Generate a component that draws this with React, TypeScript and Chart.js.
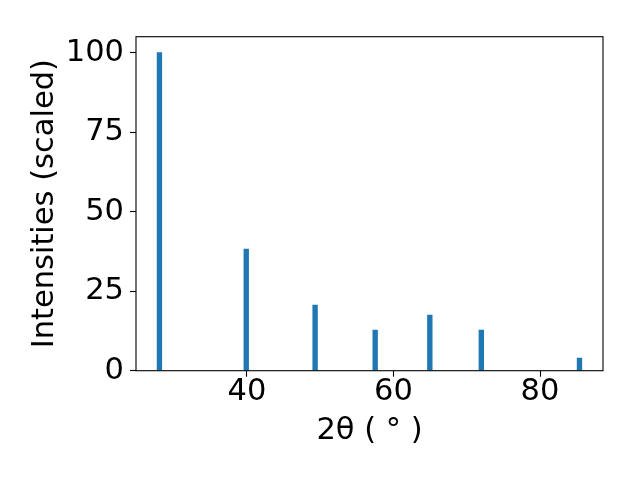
import React, { useEffect, useRef } from "react";
import { Chart, registerables } from "chart.js";

Chart.register(...registerables);

// Data
const TWO_THETA = [28.05, 39.9, 49.3, 57.5, 64.96, 71.99, 85.39];
const INTENSITIES = [100, 38.2, 20.6, 12.8, 17.5, 12.8, 4.0];
const X_TICKS = [40, 60, 80];
const Y_TICKS = [0, 25, 50, 75, 100];
const X_LIMITS = [24.85, 88.6];
const Y_LIMITS = [0, 105];
const X_TITLE = "2θ ( ° )";
const Y_TITLE = "Intensities (scaled)";

const FONT = "'DejaVu Sans', sans-serif";
const FS = 30.5;
const BAR_COLOR = "#1f77b4";

const framePlugin = {
  id: "frame",
  afterDatasetsDraw(chart: any) {
    const { ctx, chartArea } = chart;
    const { left, top, right, bottom } = chartArea;
    ctx.save();
    ctx.strokeStyle = "#000";
    ctx.lineWidth = 1.1;
    ctx.strokeRect(left, top, right - left, bottom - top);
    ctx.restore();
  },
};

export default function App() {
  const ref = useRef<HTMLCanvasElement | null>(null);

  useEffect(() => {
    if (!ref.current) return;
    const points = TWO_THETA.map((x, i) => ({ x, y: INTENSITIES[i] }));
    const chart = new Chart(ref.current, {
      type: "bar",
      data: {
        datasets: [
          {
            data: points as any,
            backgroundColor: BAR_COLOR,
            borderWidth: 0,
            barThickness: 4.7,
          },
        ],
      },
      options: {
        animation: false,
        responsive: false,
        devicePixelRatio: 1,
        layout: { padding: { left: 0, top: 36.7, right: 37, bottom: 0 } },
        plugins: {
          legend: { display: false },
          tooltip: { enabled: false },
        },
        scales: {
          x: {
            type: "linear",
            offset: false,
            min: X_LIMITS[0],
            max: X_LIMITS[1],
            afterBuildTicks: (s: any) => {
              s.ticks = X_TICKS.map((v) => ({ value: v }));
            },
            afterFit: (s: any) => {
              s.height = 480 - 370.7;
            },
            grid: {
              offset: false,
              drawOnChartArea: false,
              drawTicks: true,
              tickLength: 6,
              tickColor: "#000",
              tickWidth: 1.1,
            },
            border: { display: false },
            ticks: {
              color: "#000",
              font: { family: FONT, size: FS },
              padding: -3,
              maxRotation: 0,
              callback: (v: any) => String(v),
            },
            title: {
              display: true,
              text: X_TITLE,
              color: "#000",
              font: { family: FONT, size: FS },
              padding: { top: 0, bottom: 30.7 },
            },
          },
          y: {
            type: "linear",
            min: Y_LIMITS[0],
            max: Y_LIMITS[1],
            afterBuildTicks: (s: any) => {
              s.ticks = Y_TICKS.map((v) => ({ value: v }));
            },
            afterFit: (s: any) => {
              s.width = 136;
            },
            grid: {
              offset: false,
              drawOnChartArea: false,
              drawTicks: true,
              tickLength: 6,
              tickColor: "#000",
              tickWidth: 1.1,
            },
            border: { display: false },
            ticks: {
              color: "#000",
              font: { family: FONT, size: FS },
              padding: 6,
              callback: (v: any) => String(v),
            },
            title: {
              display: true,
              text: Y_TITLE,
              color: "#000",
              font: { family: FONT, size: FS },
              padding: { top: 27.2, bottom: 0 },
            },
          },
        },
      },
      plugins: [framePlugin],
    });
    return () => chart.destroy();
  }, []);

  return (
    <div style={{ position: "fixed", left: 0, top: 0, width: 640, height: 480, background: "#fff" }}>
      <canvas ref={ref} width={640} height={480} style={{ width: 640, height: 480 }} />
    </div>
  );
}
